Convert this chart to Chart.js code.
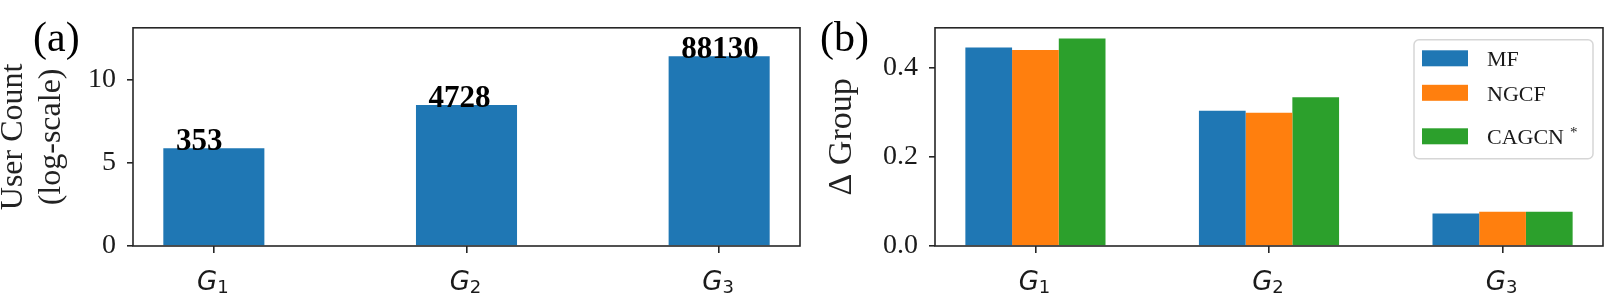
<!DOCTYPE html>
<html>
<head>
<meta charset="utf-8">
<script src="https://cdn.jsdelivr.net/npm/chart.js@4.4.1/dist/chart.umd.min.js"></script>
<style>
body { margin: 0; background: #fff; }
#wrap { position: relative; width: 1614px; height: 308px; }
canvas { position: absolute; top: 0; }
#countChart { left: 0; }
#deltaChart { left: 807px; }
</style>
</head>
<body>
<div id="wrap">
<canvas id="countChart" width="807" height="308"></canvas>
<canvas id="deltaChart" width="807" height="308"></canvas>
</div>
<script>
// data
const groups = ['G\u2081', 'G\u2082', 'G\u2083'];
const userCounts = [353, 4728, 88130];
const logCounts = [5.87, 8.46, 11.39];
const countTicks = [0, 5, 10];

const methods = ['MF', 'NGCF', 'CAGCN*'];
const deltaMF = [0.446, 0.304, 0.073];
const deltaNGCF = [0.440, 0.299, 0.077];
const deltaCAGCN = [0.466, 0.334, 0.077];
const deltaTicks = [0, 0.2, 0.4];

const colors = ['#1f77b4', '#ff7f0e', '#2ca02c'];
const ink = '#1a1a1a';

Chart.defaults.font.family = '"Liberation Serif", serif';
Chart.defaults.color = ink;

function points(values) {
    return values.map((v, i) => ({x: i, y: v}));
}

// box round the plot area, like matplotlib spines
const frame = {
    id: 'frame',
    afterDatasetsDraw(chart) {
        const {ctx, chartArea} = chart;
        ctx.save();
        ctx.strokeStyle = '#262626';
        ctx.lineWidth = 1.6;
        ctx.strokeRect(chartArea.left, chartArea.top, chartArea.right - chartArea.left, chartArea.bottom - chartArea.top);
        ctx.restore();
    }
};

const panelTag = {
    id: 'panelTag',
    afterDraw(chart, args, opts) {
        if (!opts.text) return;
        const ctx = chart.ctx;
        ctx.save();
        ctx.font = '42px "Liberation Serif"';
        ctx.fillStyle = '#000';
        ctx.textAlign = 'left';
        ctx.textBaseline = 'alphabetic';
        ctx.fillText(opts.text, opts.x, opts.y);
        ctx.restore();
    }
};

// x tick labels: italic G with an upright subscript, as mathtext draws $G_1$
const groupLabels = {
    id: 'groupLabels',
    afterDraw(chart) {
        const {ctx, scales, chartArea} = chart;
        ctx.save();
        ctx.fillStyle = ink;
        ctx.textAlign = 'left';
        ctx.textBaseline = 'alphabetic';
        scales.x.ticks.forEach(t => {
            const label = groups[t.value];
            const base = label.slice(0, 1);
            const sub = String(label.charCodeAt(1) - 0x2080);
            ctx.font = 'italic 26px "DejaVu Sans"';
            const wb = ctx.measureText(base).width;
            ctx.font = '18px "DejaVu Sans"';
            const ws = ctx.measureText(sub).width;
            const x0 = scales.x.getPixelForValue(t.value) - (wb + ws) / 2 - 1;
            const y0 = chartArea.bottom + 44;
            ctx.font = 'italic 26px "DejaVu Sans"';
            ctx.fillText(base, x0, y0);
            ctx.font = '18px "DejaVu Sans"';
            ctx.fillText(sub, x0 + wb, y0 + 3);
        });
        ctx.restore();
    }
};

// count labels above the bars in (a)
const countLabels = {
    id: 'countLabels',
    afterDatasetsDraw(chart, args, opts) {
        if (!opts.show) return;
        const {ctx, scales} = chart;
        ctx.save();
        ctx.font = 'bold 31px "Liberation Serif"';
        ctx.fillStyle = '#000';
        ctx.textAlign = 'left';
        ctx.textBaseline = 'alphabetic';
        userCounts.forEach((c, i) => {
            const x = scales.x.getPixelForValue(i - 0.15);
            const y = scales.y.getPixelForValue(logCounts[i]) + 1.5;
            ctx.fillText(String(c), x, y);
        });
        ctx.restore();
    }
};

// legend drawn inside the plot area, top right
const boxLegend = {
    id: 'boxLegend',
    afterDatasetsDraw(chart, args, opts) {
        if (!opts.show) return;
        const {ctx, chartArea} = chart;
        const w = 179, h = 119;
        const left = chartArea.right - 10 - w;
        const top = chartArea.top + 12;
        ctx.save();
        ctx.fillStyle = 'rgba(255,255,255,0.8)';
        ctx.strokeStyle = '#d6d6d6';
        ctx.lineWidth = 1.5;
        ctx.beginPath();
        ctx.roundRect(left, top, w, h, 5);
        ctx.fill();
        ctx.stroke();
        let cy = top + 18.5;
        chart.data.datasets.forEach((ds, i) => {
            const sup = ds.label.endsWith('*');
            if (i > 0) cy += sup ? 43.5 : 34.5;
            ctx.fillStyle = ds.backgroundColor;
            ctx.fillRect(left + 8, cy - 8, 46, 16);
            const name = sup ? ds.label.slice(0, -1) : ds.label;
            ctx.fillStyle = ink;
            ctx.font = '22px "Liberation Serif"';
            ctx.textAlign = 'left';
            ctx.textBaseline = 'alphabetic';
            ctx.fillText(name, left + 73, cy + 8);
            if (sup) {
                const tw = ctx.measureText(name).width;
                ctx.font = '15px "Liberation Serif"';
                ctx.fillText('*', left + 73 + tw + 6, cy + 1);
            }
        });
        ctx.restore();
    }
};

function xAxis(min, max) {
    return {
        type: 'linear',
        min: min,
        max: max,
        offset: false,
        afterBuildTicks: s => { s.ticks = groups.map((g, i) => ({value: i})); },
        afterFit: s => { s.height = 62; },
        border: {display: false},
        grid: {display: true, drawOnChartArea: false, drawTicks: true, tickLength: 7, color: '#262626', lineWidth: 1.6, offset: false},
        ticks: {display: false}
    };
}

function yAxis(max, tickValues, width, fmt, title) {
    return {
        min: 0,
        max: max,
        afterBuildTicks: s => { s.ticks = tickValues.map(v => ({value: v})); },
        afterFit: s => { s.width = width; },
        border: {display: false},
        grid: {display: true, drawOnChartArea: false, drawTicks: true, tickLength: 6, color: '#262626', lineWidth: 1.6},
        ticks: {
            callback: fmt,
            font: {size: 28},
            color: ink,
            padding: 11
        },
        title: title
    };
}

new Chart(document.getElementById('countChart'), {
    type: 'bar',
    data: {
        datasets: [{
            label: 'User Count',
            data: points(logCounts),
            backgroundColor: colors[0],
            borderWidth: 0,
            categoryPercentage: 0.4,
            barPercentage: 1.0
        }]
    },
    options: {
        responsive: false,
        animation: false,
        layout: {padding: {left: 0, right: 7, top: 24, bottom: 0}},
        plugins: {
            legend: {display: false},
            tooltip: {enabled: false},
            panelTag: {text: '(a)', x: 33, y: 51},
            countLabels: {show: true},
            boxLegend: {show: false}
        },
        scales: {
            x: xAxis(-0.32, 2.32),
            y: yAxis(13.1, countTicks, 133, v => String(v), {
                display: true,
                text: ['User Count', '(log-scale)'],
                font: {size: 32, lineHeight: 1.2},
                color: '#222',
                padding: {top: -6, bottom: 0}
            })
        }
    },
    plugins: [frame, panelTag, groupLabels, countLabels, boxLegend]
});

new Chart(document.getElementById('deltaChart'), {
    type: 'bar',
    data: {
        datasets: [
            {label: methods[0], data: points(deltaMF), backgroundColor: colors[0]},
            {label: methods[1], data: points(deltaNGCF), backgroundColor: colors[1]},
            {label: methods[2], data: points(deltaCAGCN), backgroundColor: colors[2]}
        ].map(ds => Object.assign(ds, {borderWidth: 0, categoryPercentage: 0.6, barPercentage: 1.0}))
    },
    options: {
        responsive: false,
        animation: false,
        layout: {padding: {left: 0, right: 11, top: 24, bottom: 0}},
        plugins: {
            legend: {display: false},
            tooltip: {enabled: false},
            panelTag: {text: '(b)', x: 13, y: 51},
            countLabels: {show: false},
            boxLegend: {show: true}
        },
        scales: {
            x: xAxis(-0.43, 2.43),
            y: yAxis(0.49, deltaTicks, 128, v => v.toFixed(1), {
                display: true,
                text: '\u0394 Group',
                font: {size: 34, lineHeight: 1.2},
                color: '#222',
                padding: {top: 15, bottom: 0}
            })
        }
    },
    plugins: [frame, panelTag, groupLabels, countLabels, boxLegend]
});
</script>
</body>
</html>
